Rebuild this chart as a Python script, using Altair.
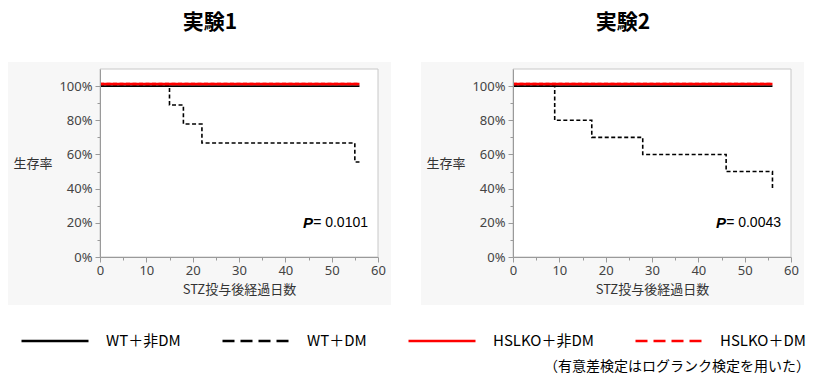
import altair as alt
import pandas as pd

# ---- data -------------------------------------------------------------
groups = ["WT＋非DM", "WT＋DM", "HSLKO＋非DM", "HSLKO＋DM"]
group_colors = ["#000000", "#000000", "#ff0000", "#ff0000"]

panel_titles = ["実験1", "実験2"]
p_labels = ["= 0.0101", "= 0.0043"]
footnote = "（有意差検定はログランク検定を用いた）"

# Experiment 1 (days, survival fraction)
e1_wt_ctrl_days = [0, 56]
e1_wt_ctrl_surv = [1.0, 1.0]
e1_wt_dm_days = [0, 15, 18, 22, 55, 56]
e1_wt_dm_surv = [1.0, 0.889, 0.778, 0.667, 0.556, 0.556]
e1_ko_ctrl_days = [0, 56]
e1_ko_ctrl_surv = [1.0, 1.0]
e1_ko_dm_days = [0, 56]
e1_ko_dm_surv = [1.0, 1.0]

# Experiment 2
e2_wt_ctrl_days = [0, 56]
e2_wt_ctrl_surv = [1.0, 1.0]
e2_wt_dm_days = [0, 9, 17, 28, 46, 56]
e2_wt_dm_surv = [1.0, 0.8, 0.7, 0.6, 0.5, 0.4]
e2_ko_ctrl_days = [0, 56]
e2_ko_ctrl_surv = [1.0, 1.0]
e2_ko_dm_days = [0, 56]
e2_ko_dm_surv = [1.0, 1.0]

x_tick_values = [0, 5, 10, 15, 20, 25, 30, 35, 40, 45, 50, 55, 60]
y_tick_values = [0, 0.1, 0.2, 0.3, 0.4, 0.5, 0.6, 0.7, 0.8, 0.9, 1.0]
p_pos_day = 46
p_pos_surv = 0.2


def make_df(series):
    rows = []
    for g, days, surv in series:
        for d, s in zip(days, surv):
            rows.append({"group": g, "day": d, "surv": s})
    return pd.DataFrame(rows)


df1 = make_df([
    (groups[0], e1_wt_ctrl_days, e1_wt_ctrl_surv),
    (groups[1], e1_wt_dm_days, e1_wt_dm_surv),
    (groups[2], e1_ko_ctrl_days, e1_ko_ctrl_surv),
    (groups[3], e1_ko_dm_days, e1_ko_dm_surv),
])
df2 = make_df([
    (groups[0], e2_wt_ctrl_days, e2_wt_ctrl_surv),
    (groups[1], e2_wt_dm_days, e2_wt_dm_surv),
    (groups[2], e2_ko_ctrl_days, e2_ko_ctrl_surv),
    (groups[3], e2_ko_dm_days, e2_ko_dm_surv),
])

W, H = 278, 188
AX = "#9a9a9a"
CJK = "Noto Sans CJK JP"
PLOT_DASH = [4, 2.5]

x_axis = alt.Axis(
    values=x_tick_values,
    labelExpr="datum.value % 10 == 0 ? datum.label : ''",
    tickSize={"condition": {"test": "datum.value % 10 == 0", "value": 5}, "value": 3},
    title="STZ投与後経過日数",
    zindex=1, grid=False, domainColor=AX, tickColor=AX,
    labelFont="Noto Sans", labelFontSize=13, labelColor="#444444",
    labelPadding=2, labelFlush=False, labelOverlap=False,
    titleFont=CJK, titleFontSize=13, titleFontWeight="normal",
    titleColor="#333333", titlePadding=6,
)
y_axis = alt.Axis(
    values=y_tick_values,
    format="%",
    labelExpr="round(datum.value * 100) % 20 == 0 ? datum.label : ''",
    tickSize={"condition": {"test": "round(datum.value * 100) % 20 == 0", "value": 5}, "value": 3},
    title="生存率",
    zindex=1, grid=False, domainColor=AX, tickColor=AX,
    labelFont="Noto Sans", labelFontSize=13, labelColor="#444444",
    labelPadding=3, labelOverlap=False,
    titleFont=CJK, titleFontSize=13, titleFontWeight="normal",
    titleColor="#333333", titleAngle=0, titleX=-87, titleY=94,
    titleAlign="left", titleBaseline="middle",
)

legend = alt.Legend(
    title=None, orient="none", legendX=-80, legendY=237,
    direction="horizontal", symbolType="stroke", symbolSize=4489,
    symbolStrokeWidth=2.5, labelFontSize=15, labelFont=CJK,
    labelColor="#000000", labelOffset=16, columnPadding=36,
    symbolDash=alt.ExprRef("indexof(datum.value, '非') >= 0 ? [1, 0] : [12, 6]"),
)

x_enc = alt.X("day:Q", scale=alt.Scale(domain=[0, 60], nice=False), axis=x_axis)
y_enc = alt.Y("surv:Q", scale=alt.Scale(domain=[0, 1.1], nice=False), axis=y_axis)
color_enc = alt.Color("group:N", scale=alt.Scale(domain=groups, range=group_colors), legend=legend)

one = pd.DataFrame({"a": [0]})


def series_layer(df, g, **mark_kw):
    return alt.Chart(df).transform_filter(
        alt.FieldEqualPredicate(field="group", equal=g)
    ).mark_line(interpolate="step-after", **mark_kw).encode(
        x=x_enc, y=y_enc, color=color_enc)


def panel(df, idx, extra_layers=()):
    gray = alt.Chart(one).mark_rect(fill="#f7f7f7").encode(
        x=alt.value(-92), x2=alt.value(291), y=alt.value(-7), y2=alt.value(236))
    plot_bg = alt.Chart(one).mark_rect(fill="white", stroke="#c8c8c8", strokeWidth=1).encode(
        x=alt.value(0), x2=alt.value(W), y=alt.value(0), y2=alt.value(H))
    l_wt_ctrl = series_layer(df, groups[0], strokeWidth=1.6)
    l_wt_dm = series_layer(df, groups[1], strokeWidth=1.6, strokeDash=PLOT_DASH)
    l_ko_ctrl = series_layer(df, groups[2], strokeWidth=2.5, yOffset=-2)
    l_ko_dm = series_layer(df, groups[3], strokeWidth=2.5, yOffset=-2, strokeDash=PLOT_DASH)
    pdf = pd.DataFrame({"day": [p_pos_day], "surv": [p_pos_surv], "t": [p_labels[idx]]})
    p_letter = alt.Chart(pdf).mark_text(
        text="P", align="right", baseline="middle", fontSize=15, fontStyle="italic",
        fontWeight="bold", font="Liberation Sans", color="#000000").encode(x=x_enc, y=y_enc)
    p_val = alt.Chart(pdf).mark_text(
        align="left", baseline="middle", fontSize=14, font="Liberation Sans",
        color="#000000", dx=0).encode(x=x_enc, y=y_enc, text="t:N")
    tdf = pd.DataFrame({"t": [panel_titles[idx]]})
    title = alt.Chart(tdf).mark_text(
        fontSize=21, fontWeight="bold", font=CJK, baseline="middle", align="center",
        color="#000000").encode(x=alt.value(110), y=alt.value(-46), text="t:N")
    layers = list(extra_layers) + [gray, plot_bg, l_wt_ctrl, l_wt_dm, l_ko_ctrl, l_ko_dm,
                                   p_letter, p_val, title]
    return alt.layer(*layers).properties(width=W, height=H)


canvas = alt.Chart(one).mark_rect(fill="white", opacity=0).encode(
    x=alt.value(-100), x2=alt.value(720), y=alt.value(-69), y2=alt.value(307))

fdf = pd.DataFrame({"t": [footnote]})
foot = alt.Chart(fdf).mark_text(
    align="right", baseline="middle", fontSize=14, font=CJK, color="#000000"
).encode(x=alt.value(297), y=alt.value(298), text="t:N")

p1 = panel(df1, 0, extra_layers=[canvas])
p2 = alt.layer(panel(df2, 1), foot)

chart = alt.hconcat(p1, p2, spacing=135, bounds="flush").resolve_scale(
    color="shared"
).properties(padding=0).configure_view(stroke=None, fill=None)

chart.save("out.html", embed_options={"renderer": "svg", "actions": False})
